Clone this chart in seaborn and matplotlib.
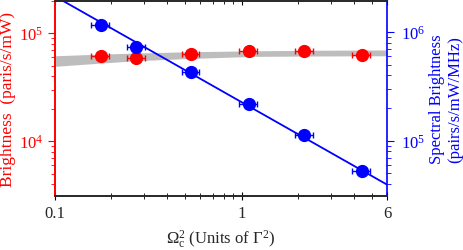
import numpy as np
import matplotlib
matplotlib.use('Agg')
import matplotlib.pyplot as plt
import matplotlib.ticker as mticker
import seaborn as sns

# dados
omega_x = [0.176, 0.272, 0.535, 1.09, 2.16, 4.4]
brilho = [6.16e4, 5.84e4, 6.4e4, 6.78e4, 6.78e4, 6.26e4]          # pairs/s/mW
brilho_espectral = [1.16e6, 7.28e5, 4.3e5, 2.18e5, 1.135e5, 5.3e4]  # pairs/s/mW/MHz
x_err_frac = [0.11, 0.11, 0.11, 0.11, 0.11, 0.11]

# faixa cinza (teoria)
faixa_x = [0.1, 0.15, 0.27, 0.5, 1.17, 2.5, 6]
faixa_sup = [6.16e4, 6.32e4, 6.53e4, 6.7e4, 6.85e4, 6.93e4, 6.97e4]
faixa_inf = [4.92e4, 5.17e4, 5.54e4, 5.8e4, 6.08e4, 6.13e4, 6.16e4]

# reta ajustada (espectral)
ajuste_x = [0.1, 6]
ajuste_y = [2.13e6, 3.95e4]

sns.set_style('ticks')
plt.rcParams['font.family'] = ['Liberation Serif', 'DejaVu Serif']
plt.rcParams['mathtext.fontset'] = 'custom'
plt.rcParams['mathtext.rm'] = 'Liberation Serif'
plt.rcParams['mathtext.it'] = 'Liberation Serif:italic'
plt.rcParams['font.size'] = 12

vermelho = '#ff0000'
azul = '#0000ff'

fig = plt.figure(figsize=(4.63, 2.51), dpi=100)
ax = fig.add_axes([0.1188, 0.215, 0.717, 0.779])
ax2 = ax.twinx()

ax.fill_between(faixa_x, faixa_inf, faixa_sup, color='#bdbdbd', lw=0, zorder=1)
xe = np.array(omega_x) * np.array(x_err_frac)
ax.errorbar(omega_x, brilho, xerr=xe, fmt='o', color=vermelho, ms=8.5,
            capsize=2, elinewidth=1, zorder=3)

sns.lineplot(x=ajuste_x, y=ajuste_y, ax=ax2, color=azul, lw=1.3, zorder=2)
ax2.errorbar(omega_x, brilho_espectral, xerr=xe, fmt='o', color=azul, ms=8.5,
             capsize=2, elinewidth=1, zorder=3)

ax.set_xscale('log')
ax.set_yscale('log')
ax2.set_yscale('log')
ax.set_xlim(0.1, 6)
ax.set_ylim(3.1e3, 2.0e5)
ax2.set_ylim(3.1e4, 1.95e6)

ax.xaxis.set_major_locator(mticker.FixedLocator([0.1, 1, 6]))
ax.xaxis.set_major_formatter(mticker.FixedFormatter(['0.1', '1', '6']))
ax.xaxis.set_minor_locator(mticker.LogLocator(subs=np.arange(2, 10)))
ax.xaxis.set_minor_formatter(mticker.NullFormatter())

ax.tick_params(axis='x', which='both', direction='inout', top=True, color='black')
ax.tick_params(axis='x', which='major', length=6)
ax.tick_params(axis='x', which='minor', length=4)
ax.tick_params(axis='y', which='both', direction='out', colors=vermelho)
ax.tick_params(axis='y', which='major', length=5)
ax.tick_params(axis='y', which='minor', length=3)
ax2.tick_params(axis='y', which='both', direction='out', colors=azul)
ax2.tick_params(axis='y', which='major', length=5, pad=5)
ax2.tick_params(axis='y', which='minor', length=3)

ax.spines['left'].set_color(vermelho)
ax2.spines['left'].set_color(vermelho)
ax2.spines['right'].set_color(azul)
ax.spines['right'].set_visible(False)
for a in (ax, ax2):
    for s in ('left', 'right', 'top', 'bottom'):
        a.spines[s].set_linewidth(1.2)

ax.set_xlabel(r'$\Omega_{\rm c}^{2}$ (Units of $\Gamma^{2}$)', fontsize=12, labelpad=4)
ax.set_ylabel('Brightness  (paris/s/mW)', color=vermelho, fontsize=12.5, labelpad=2)
ax2.set_ylabel('Spectral Brightness\n(pairs/s/mW/MHz)', color=azul, fontsize=12,
               labelpad=3, linespacing=1.15)

fig.savefig('out.png', dpi=100)
